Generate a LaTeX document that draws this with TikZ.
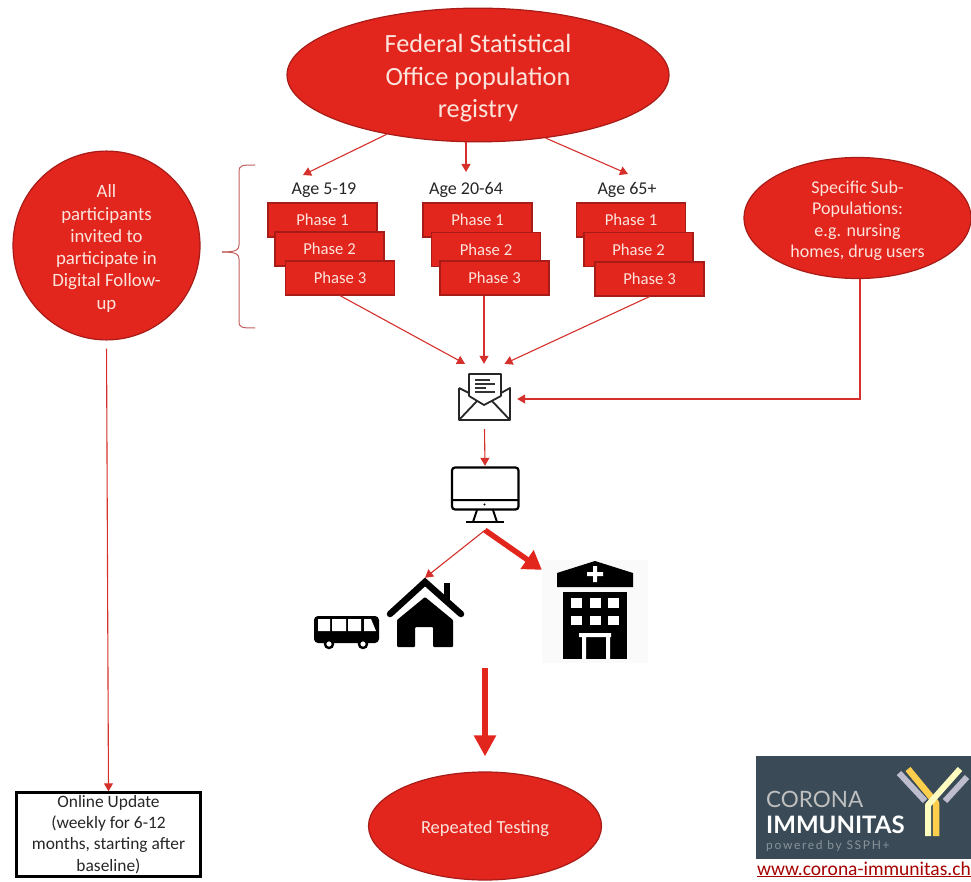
\documentclass[tikz,border=0pt]{standalone}
\usepackage{fontspec}
\setmainfont{Carlito}
\newfontfamily\logofont{Lato}
\usetikzlibrary{shapes.geometric,arrows.meta}
\definecolor{redfill}{HTML}{E2251D}
\definecolor{redline}{HTML}{A81C18}
\definecolor{arrowred}{HTML}{D5302B}
\definecolor{palered}{HTML}{FCE4DC}
\definecolor{logoblue}{HTML}{3A4B57}
\tikzset{
  redoval/.style={ellipse,draw=redline,fill=redfill,line width=1.2pt,inner sep=0pt,text=palered,align=center},
  phasebox/.style={draw=redline,fill=redfill,line width=1.2pt,inner sep=0pt,minimum width=109pt,minimum height=34pt,text=palered,font=\fontsize{16.7}{18}\selectfont},
  agelabel/.style={inner sep=0pt,text=black!85,font=\fontsize{18}{20}\selectfont},
  iconbox/.style={inner sep=0pt,draw=none},
  arr/.style={->,draw=arrowred,line width=1.1pt},
  bigarr/.style={-{Triangle[length=18pt,width=22pt]},draw=redfill,line width=5.5pt},
}
\begin{document}
\begin{tikzpicture}[x=1pt,y=-1pt,>={Triangle[length=8pt,width=9pt]}]
\useasboundingbox (0,0) rectangle (971,882);
% ovals
\node[redoval,minimum width=382pt,minimum height=130pt,font=\fontsize{26.3}{32.5}\selectfont] (registry) at (478,75) {\rule{0pt}{25pt}Federal Statistical\\Office population\\registry};
\node[redoval,minimum width=187pt,minimum height=153pt,font=\fontsize{18.8}{22.3}\selectfont] (invited) at (106.5,245.5) {\rule{0pt}{19pt}All\\participants\\invited to\\participate in\\Digital Follow-\\up};
\node[redoval,minimum width=227pt,minimum height=109pt,font=\fontsize{18}{21.5}\selectfont] (subpop) at (857.5,218) {\rule{0pt}{18pt}Specific Sub-\\Populations:\\e.g. nursing\\homes, drug users};
\node[redoval,minimum width=233pt,minimum height=108pt,font=\fontsize{18.5}{20}\selectfont] (repeated) at (485,826) {\rule{0pt}{18pt}Repeated Testing};
% age groups
\node[agelabel] (agea) at (324,190) {Age 5-19};
\node[agelabel] (ageb) at (466,190) {Age 20-64};
\node[agelabel] (agec) at (627,190) {Age 65+};
\foreach \nm/\num/\x/\y in {a1/1/322.5/220,a2/2/329.5/249,a3/3/340/278,
  b1/1/477.5/220,b2/2/486/249.5,b3/3/494.5/278,
  c1/1/631/220,c2/2/638.5/249.5,c3/3/649.5/279}
  \node[phasebox] (phase\nm) at (\x,\y) {Phase \num};
% bracket
\draw[draw=redline!70,line width=1pt] (255,165) .. controls (242,165) and (239,165) .. (239,172) -- (239,245) .. controls (239,250) and (236,252) .. (222,252);
\draw[draw=redline!70,line width=1pt] (255,328) .. controls (242,328) and (239,328) .. (239,321) -- (239,259) .. controls (239,254) and (236,252) .. (222,252);
% envelope
\node[iconbox,minimum width=65pt,minimum height=65pt] (mail) at (484.5,396.5) {};
\draw[line width=1.8pt,draw=black!85,line join=round] (459,388) -- (459,420) -- (510,420) -- (510,388) -- (501,393) (469,393) -- (459,388)
  (469,396) -- (469,374) -- (501,374) -- (501,396) (469,396) -- (484,405) -- (501,396)
  (459,420) -- (477,401) (510,420) -- (492,401);
\draw[line width=1.2pt,draw=black!80] (475,380) -- (490,380) (475,384) -- (495,384) (475,388) -- (486,388) (475,392) -- (495,392);
% monitor
\node[iconbox,minimum width=70pt,minimum height=64pt] (screen) at (485,498) {};
\draw[line width=2.2pt,rounded corners=3pt] (452,467.5) rectangle (518.5,509.5);
\draw[line width=2pt] (452,500) -- (518.5,500) (477,510) -- (473,522) (493,510) -- (497,522);
\draw[line width=2pt] (466,522) -- (504,522);
\fill (484.5,504.5) circle (1.1pt);
% house
\node[iconbox,minimum width=76pt,minimum height=70pt] (house) at (425,613) {};
\fill (444,583) rectangle (450,602);
\draw[line width=6.5pt,line cap=round,line join=miter] (390,614) -- (425,582) -- (461,614);
\fill[rounded corners=1pt] (397,620) -- (425,597) -- (453,620) -- (453,647) -- (433,647) -- (433,627) -- (415,627) -- (415,647) -- (397,647) -- cycle;
% bus
\fill[rounded corners=4pt] (314,616) rectangle (379,643);
\fill[white] (318,619) rectangle (330,631) (332,619) rectangle (346,631) (348,619) rectangle (361,631) (364,619) -- (371,619) -- (376,631) -- (364,631) -- cycle;
\foreach \x in {329,363}
  \draw[line width=2.4pt,fill=white] (\x,644) circle (4pt);
% hospital
\node[iconbox,fill=black!2,minimum width=106pt,minimum height=103pt] (hospital) at (595,611.5) {};
\fill (557,587) -- (557,573) -- (595,561) -- (633,573) -- (633,587) -- cycle;
\fill[white] (593,566) rectangle (597,582) (587,572) rectangle (603,576);
\fill (563,592) rectangle (627,659);
\foreach \x in {571,589.5,608}
  \foreach \y in {598,615.5}
    \fill[white] (\x,\y) rectangle (\x+11,\y+9.5);
\fill[white] (579,633) rectangle (611,637) (582,637) rectangle (586,659) (606,637) rectangle (610,659);
% online update box
\node[draw=black,line width=2.4pt,inner sep=0pt,minimum width=184pt,minimum height=84pt,align=center,text=black!85,font=\fontsize{17.4}{21.3}\selectfont] (update) at (108.5,834.5) {Online Update\\(weekly for 6-12\\months, starting after\\baseline)};
% logo
\node[fill=logoblue,inner sep=0pt,minimum width=215pt,minimum height=103pt] (logo) at (863.5,807.5) {};
\draw[line width=6pt,draw=blue!15!gray!45] (899,773) -- (925,801);
\draw[line width=6pt,draw=blue!15!gray!45] (967,777) -- (945,801);
\draw[line width=6.5pt,draw=yellow!50!orange!70,line join=round] (908,769) -- (936,803) -- (936,836);
\draw[line width=6pt,draw=yellow!25!white,line join=round] (960,769) -- (928,805) -- (928,836);
\node[anchor=base west,inner sep=0pt,text=black!25,font=\logofont\fontsize{22.5}{24}\selectfont] (corona) at (766,807) {CORONA};
\node[anchor=base west,inner sep=0pt,text=white,font=\logofont\bfseries\fontsize{24}{26}\selectfont] (immunitas) at (766,833) {IMMUNITAS};
\node[anchor=base west,inner sep=0pt,text=logoblue!60!white,font=\logofont\fontsize{12}{13}\selectfont\addfontfeature{LetterSpace=14}] (powered) at (766,849) {powered by SSPH+};
\node[anchor=base west,inner sep=0pt,text=red!65!black,font=\fontsize{19.5}{22}\selectfont] (website) at (757,875) {\underline{www.corona-immunitas.ch}};
% connectors
\coordinate (tipb) at (466,172);
\coordinate (turn) at (860,399);
\coordinate (bigstart) at (485,668);
\draw[arr] (registry.213.8) -- (303,175);
\draw[arr] (registry.south -| tipb) -- (tipb);
\draw[arr] (registry.-43.6) -- (628,174);
\draw[arr] (phasea3.south) -- ([xshift=-19.5pt]mail.north);
\draw[arr] ([xshift=-10.5pt]phaseb3.south) -- (mail.north -| 484,0);
\draw[arr] (phasec3.south) -- ([xshift=20pt]mail.north);
\draw[arr] (subpop.south -| turn) -- (turn) -- (mail.east |- turn);
\draw[arr] (mail.south) -- (screen.north);
\draw[arr] (screen.south) -- (house.north);
\draw[bigarr] (screen.south) -- ([yshift=-10pt]hospital.north west);
\draw[-{Triangle[length=21pt,width=21pt]},draw=redfill,line width=6.5pt,shorten >=15pt] (bigstart) -- (repeated.north);
\draw[arr,shorten <=8pt] (invited.south) -- (update.north);
\end{tikzpicture}
\end{document}
